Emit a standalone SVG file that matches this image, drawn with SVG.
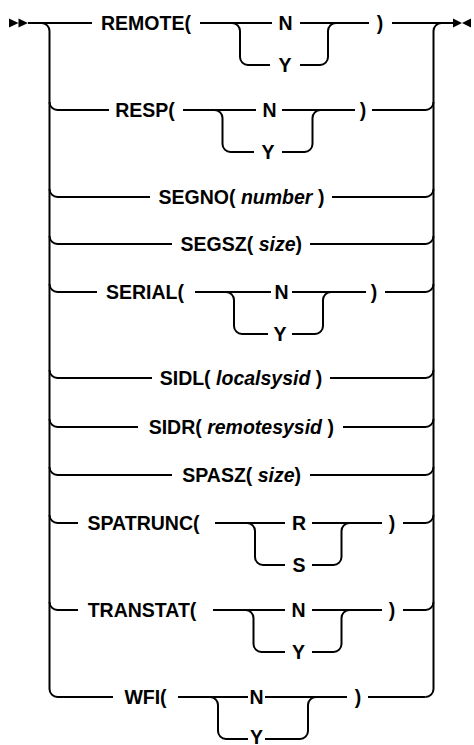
<svg xmlns="http://www.w3.org/2000/svg" width="474" height="745" viewBox="0 0 474 745">
<style>
.c{fill:none;stroke:#000;stroke-width:2}
.t{font-family:"Liberation Sans",Arial,sans-serif;font-size:19.5px;font-weight:bold;text-anchor:middle;fill:#000}
.i{font-style:italic}
.a{fill:#000;stroke:none}
</style>
<rect width="474" height="745" fill="#fff"/>
<g id="connectors">
<path class="c" d="M28 23H92M200 23H272M300 23H369M392 23H453"/>
<path class="c" d="M41.5 23A8 8 0 0 1 49.5 31V689A8 8 0 0 0 57.5 697H113"/>
<path class="c" d="M425.5 697A8 8 0 0 0 433.5 689V31A8 8 0 0 1 441.5 23"/>
<path class="c" d="M232 23A8 8 0 0 1 240 31V57A8 8 0 0 0 248 65H270M300 65H320A8 8 0 0 0 328 57V31A8 8 0 0 1 336 23"/>
<path class="c" d="M49.5 102A8 8 0 0 0 57.5 110H109M183 110H256M282 110H355M372 110H425.5A8 8 0 0 0 433.5 102"/>
<path class="c" d="M214.5 110A8 8 0 0 1 222.5 118V144A8 8 0 0 0 230.5 152H254M282 152H304.5A8 8 0 0 0 312.5 144V118A8 8 0 0 1 320.5 110"/>
<path class="c" d="M49.5 189A8 8 0 0 0 57.5 197H150M332 197H425.5A8 8 0 0 0 433.5 189"/>
<path class="c" d="M49.5 236A8 8 0 0 0 57.5 244H172M310 244H425.5A8 8 0 0 0 433.5 236"/>
<path class="c" d="M49.5 284A8 8 0 0 0 57.5 292H97M195 292H271M292 292H366M385 292H425.5A8 8 0 0 0 433.5 284"/>
<path class="c" d="M226 292A8 8 0 0 1 234 300V326A8 8 0 0 0 242 334H268M292 334H315A8 8 0 0 0 323 326V300A8 8 0 0 1 331 292"/>
<path class="c" d="M49.5 370A8 8 0 0 0 57.5 378H152M330 378H425.5A8 8 0 0 0 433.5 370"/>
<path class="c" d="M49.5 419A8 8 0 0 0 57.5 427H138M343 427H425.5A8 8 0 0 0 433.5 419"/>
<path class="c" d="M49.5 467A8 8 0 0 0 57.5 475H172M310 475H425.5A8 8 0 0 0 433.5 467"/>
<path class="c" d="M49.5 515A8 8 0 0 0 57.5 523H78M215 523H285M312 523H382M403 523H425.5A8 8 0 0 0 433.5 515"/>
<path class="c" d="M247 523A8 8 0 0 1 255 531V557A8 8 0 0 0 263 565H285M312 565H333.5A8 8 0 0 0 341.5 557V531A8 8 0 0 1 349.5 523"/>
<path class="c" d="M49.5 602A8 8 0 0 0 57.5 610H78M213 610H285M312 610H382M403 610H425.5A8 8 0 0 0 433.5 602"/>
<path class="c" d="M245.5 610A8 8 0 0 1 253.5 618V644A8 8 0 0 0 261.5 652H285M312 652H333.5A8 8 0 0 0 341.5 644V618A8 8 0 0 1 349.5 610"/>
<path class="c" d="M178 697H248M265 697H347M368 697H425.5"/>
<path class="c" d="M210 697A8 8 0 0 1 218 705V731A8 8 0 0 0 226 739H248M265 739H300A8 8 0 0 0 308 731V705A8 8 0 0 1 316 697"/>
</g>
<g id="start"><path class="a" d="M9 18.5L18.5 23L9 27.5ZM18.5 18.5L28 23L18.5 27.5Z"/></g>
<g id="end"><path class="a" d="M453 18.5L462 23L453 27.5ZM471 18.5L462 23L471 27.5Z"/></g>
<g id="remote">
<text class="t" x="146" y="30">REMOTE(</text>
<text class="t" x="285.5" y="30">N</text>
<text class="t" x="285" y="72">Y</text>
<text class="t" x="380" y="30">)</text>
</g>
<g id="resp">
<text class="t" x="145" y="117">RESP(</text>
<text class="t" x="269.5" y="117">N</text>
<text class="t" x="268" y="159">Y</text>
<text class="t" x="363" y="117">)</text>
</g>
<g id="segno"><text class="t" x="241.5" y="204">SEGNO( <tspan class="i">number</tspan> )</text></g>
<g id="segsz"><text class="t" x="241.3" y="251">SEGSZ( <tspan class="i">size</tspan>)</text></g>
<g id="serial">
<text class="t" x="145" y="299">SERIAL(</text>
<text class="t" x="281.5" y="299">N</text>
<text class="t" x="280" y="341">Y</text>
<text class="t" x="374" y="299">)</text>
</g>
<g id="sidl"><text class="t" x="241" y="385">SIDL( <tspan class="i">localsysid</tspan> )</text></g>
<g id="sidr"><text class="t" x="241.3" y="434">SIDR( <tspan class="i">remotesysid</tspan> )</text></g>
<g id="spasz"><text class="t" x="241.7" y="482">SPASZ( <tspan class="i">size</tspan>)</text></g>
<g id="spatrunc">
<text class="t" x="143.5" y="530">SPATRUNC(</text>
<text class="t" x="299" y="530">R</text>
<text class="t" x="299" y="572">S</text>
<text class="t" x="392" y="530">)</text>
</g>
<g id="transtat">
<text class="t" x="142" y="617">TRANSTAT(</text>
<text class="t" x="298.5" y="617">N</text>
<text class="t" x="298.5" y="659">Y</text>
<text class="t" x="392" y="617">)</text>
</g>
<g id="wfi">
<text class="t" x="145.5" y="704">WFI(</text>
<text class="t" x="256.5" y="704">N</text>
<text class="t" x="256.5" y="744">Y</text>
<text class="t" x="358" y="704">)</text>
</g>
</svg>
